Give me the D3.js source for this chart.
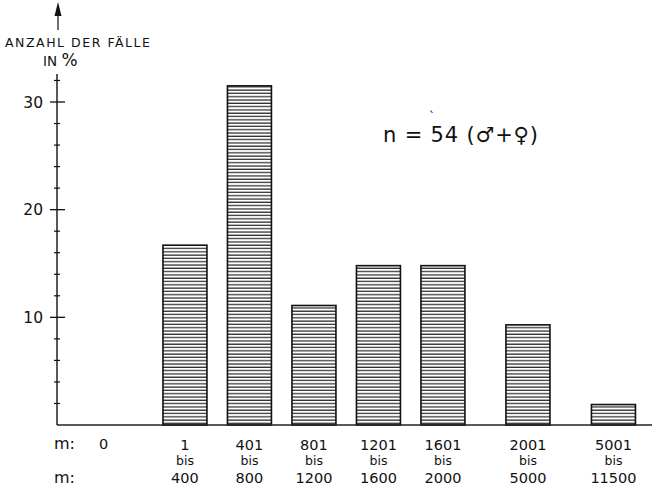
<!DOCTYPE html>
<html>
<head>
<meta charset="utf-8">
<script src="https://cdn.jsdelivr.net/npm/d3@7"></script>
<style>
  body { margin: 0; background: #fff; }
  text { font-family: "DejaVu Sans", sans-serif; fill: #111; }
</style>
</head>
<body>
<script>
// class limits (m) and share of cases in %
var classLow = ["1", "401", "801", "1201", "1601", "2001", "5001"];
var classHigh = ["400", "800", "1200", "1600", "2000", "5000", "11500"];
var shares = [16.7, 31.5, 11.1, 14.8, 14.8, 9.3, 1.9];
var zeroClass = "0";
var yTicks = [10, 20, 30];
var nTotal = 54;

var width = 664, height = 490;

var svg = d3.select("body").append("svg")
    .attr("width", width)
    .attr("height", height);

var axisX = 57, baseY = 425;

var yScale = d3.scaleLinear().domain([0, 30]).range([baseY, 102]);

// first five classes are evenly spaced, the last two wider
var xNarrow = d3.scaleBand().domain(classLow.slice(0, 5))
    .range([152.7, 475.2]).paddingInner(0.318).paddingOuter(0.159);
var xWide = d3.scaleBand().domain(classLow.slice(5))
    .range([485.2, 656.2]).paddingInner(0.485).paddingOuter(0.2425);

function xPos(c) { return xNarrow.domain().indexOf(c) >= 0 ? xNarrow(c) : xWide(c); }
function bw(c) { return xNarrow.domain().indexOf(c) >= 0 ? xNarrow.bandwidth() : xWide.bandwidth(); }

var data = classLow.map(function (d, i) {
    return { low: d, high: classHigh[i], value: shares[i] };
});

// horizontal hatching
var pattern = svg.append("defs").append("pattern")
    .attr("id", "hatch")
    .attr("patternUnits", "userSpaceOnUse")
    .attr("width", 8)
    .attr("height", 3.3);
pattern.append("line")
    .attr("x1", 0).attr("x2", 8)
    .attr("y1", 1).attr("y2", 1)
    .attr("stroke", "#222")
    .attr("stroke-width", 1.2);

// bars
svg.append("g").selectAll("rect")
    .data(data)
    .enter().append("rect")
    .attr("x", function (d) { return xPos(d.low); })
    .attr("y", function (d) { return yScale(d.value); })
    .attr("width", function (d) { return bw(d.low); })
    .attr("height", function (d) { return baseY - yScale(d.value); })
    .attr("fill", "url(#hatch)")
    .attr("stroke", "#111")
    .attr("stroke-width", 1.6);

// baseline
svg.append("line")
    .attr("x1", axisX).attr("x2", 652)
    .attr("y1", baseY).attr("y2", baseY)
    .attr("stroke", "#222").attr("stroke-width", 1.4);

// y axis (interrupted by the title)
svg.append("line")
    .attr("x1", axisX).attr("x2", axisX)
    .attr("y1", baseY).attr("y2", 74)
    .attr("stroke", "#111").attr("stroke-width", 1.4);
svg.append("line")
    .attr("x1", axisX + 1).attr("x2", axisX + 1)
    .attr("y1", 30).attr("y2", 12)
    .attr("stroke", "#111").attr("stroke-width", 1.2);
svg.append("path")
    .attr("d", "M" + (axisX + 1) + ",2 L" + (axisX - 2.5) + ",16 L" + (axisX + 4.5) + ",16 Z")
    .attr("fill", "#111");

// minor ticks every 2 %
var minor = d3.range(2, 33, 2).filter(function (t) { return yTicks.indexOf(t) < 0; });
svg.append("g").selectAll("line")
    .data(minor)
    .enter().append("line")
    .attr("x1", axisX - 3).attr("x2", axisX + 3)
    .attr("y1", function (d) { return yScale(d); })
    .attr("y2", function (d) { return yScale(d); })
    .attr("stroke", "#111").attr("stroke-width", 1.2);

var major = svg.append("g").selectAll("g")
    .data(yTicks)
    .enter().append("g")
    .attr("transform", function (d) { return "translate(0," + yScale(d) + ")"; });
major.append("line")
    .attr("x1", axisX - 7).attr("x2", axisX + 8)
    .attr("stroke", "#111").attr("stroke-width", 1.3);
major.append("text")
    .attr("x", axisX - 14)
    .attr("y", 5.5)
    .attr("text-anchor", "end")
    .style("font-size", "15.5px")
    .text(function (d) { return d; });

// axis title
svg.append("text")
    .attr("x", 5).attr("y", 47)
    .attr("textLength", 145)
    .attr("lengthAdjust", "spacing")
    .style("font-size", "12.5px")
    .text("ANZAHL DER FÄLLE");
var inPct = svg.append("text")
    .attr("x", 43).attr("y", 66)
    .style("font-size", "13.5px");
inPct.append("tspan").text("IN ");
inPct.append("tspan").style("font-size", "17px").text("%");

// class labels
var labels = svg.append("g").selectAll("g")
    .data(data)
    .enter().append("g")
    .attr("transform", function (d) { return "translate(" + (xPos(d.low) + bw(d.low) / 2) + ",0)"; })
    .attr("text-anchor", "middle");
labels.append("text").attr("y", 450).style("font-size", "14.5px").text(function (d) { return d.low; });
labels.append("text").attr("y", 465).style("font-size", "12.5px").text("bis");
labels.append("text").attr("y", 483).style("font-size", "14.5px").text(function (d) { return d.high; });

svg.append("text")
    .attr("x", 54).attr("y", 449)
    .style("font-size", "16px")
    .text("m:");
svg.append("text")
    .attr("x", 99).attr("y", 449)
    .style("font-size", "14.5px")
    .text(zeroClass);
svg.append("text")
    .attr("x", 54).attr("y", 483)
    .style("font-size", "16px")
    .text("m:");

// sample size note
svg.append("text")
    .attr("x", 383).attr("y", 142)
    .attr("textLength", 155)
    .attr("lengthAdjust", "spacing")
    .style("font-size", "21px")
    .text("n = " + nTotal + " (\u2642+\u2640)");
svg.append("text")
    .attr("x", 429).attr("y", 121)
    .style("font-size", "12px")
    .text("`");
</script>
</body>
</html>
